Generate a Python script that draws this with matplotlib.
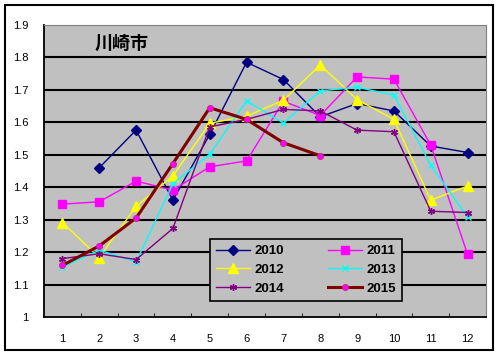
import matplotlib
matplotlib.use('Agg')
import matplotlib.pyplot as plt
from matplotlib.patches import Rectangle
from matplotlib.ticker import FixedLocator, FuncFormatter

months = [str(m) for m in range(1, 13)]
nan = float('nan')

# monthly values
v2010 = [nan, 1.46, 1.576, 1.36, 1.563, 1.785, 1.732, 1.617, 1.658, 1.635, 1.527, 1.507]
v2011 = [1.348, 1.355, 1.419, 1.391, 1.463, 1.481, 1.665, 1.621, 1.74, 1.733, 1.53, 1.193]
v2012 = [1.291, 1.183, 1.341, 1.435, 1.597, 1.619, 1.668, 1.777, 1.67, 1.609, 1.36, 1.404]
v2013 = [1.154, 1.206, 1.17, 1.411, 1.502, 1.666, 1.598, 1.697, 1.708, 1.684, 1.468, 1.308]
v2014 = [1.18, 1.195, 1.177, 1.273, 1.586, 1.609, 1.64, 1.635, 1.576, 1.571, 1.326, 1.322]
v2015 = [1.159, 1.219, 1.305, 1.473, 1.645, 1.609, 1.537, 1.497]

W, H = 501, 356
fig = plt.figure(figsize=(W / 100, H / 100), dpi=100)
fig.patch.set_facecolor('white')

# plot area in pixels: left 44, right 486, top 25, bottom 317
ax = fig.add_axes([44 / W, 1 - 317 / H, (486 - 44) / W, (317 - 25) / H])
ax.set_facecolor('#C0C0C0')

x = list(range(12))
l10, = ax.plot(x, v2010, color='#000080', lw=1, marker='D', ms=5, label='2010')
l11, = ax.plot(x, v2011, color='#FF00FF', lw=1, marker='s', ms=6, label='2011')
l12, = ax.plot(x, v2012, color='#FFFF00', lw=1, marker='^', ms=7, label='2012')
l13, = ax.plot(x, v2013, color='#00FFFF', lw=1, marker='x', ms=4, mew=1, label='2013')
l14, = ax.plot(x, v2014, color='#800080', lw=1, marker=(6, 2, 0), ms=5, mew=1, label='2014')
l15, = ax.plot(x[:len(v2015)], v2015, color='#800000', lw=2.2, marker='o', ms=4.5,
               mfc='#FF00FF', mec='#B03060', mew=0.5, label='2015')

ax.set_xlim(-0.5, 11.5)
ax.set_ylim(1.0, 1.9)
ax.set_xticks(x)
ax.set_xticklabels(months)
ax.xaxis.set_minor_locator(FixedLocator([i + 0.5 for i in range(11)]))
ax.tick_params(axis='x', which='major', length=0, pad=12)
ax.tick_params(axis='x', which='minor', length=3, direction='in', color='black')
ax.set_yticks([1.0 + i / 10 for i in range(10)])
ax.yaxis.set_major_formatter(FuncFormatter(lambda v, p: '%g' % round(v, 1)))
ax.tick_params(axis='y', length=0, pad=11)
for lab in ax.get_xticklabels() + ax.get_yticklabels():
    lab.set_fontfamily('Liberation Sans')
    lab.set_fontsize(8)

for g in [1.1, 1.2, 1.3, 1.4, 1.5, 1.6, 1.7, 1.8]:
    ax.axhline(g, color='black', lw=1.5, zorder=1)

ax.spines['left'].set_color('black')
ax.spines['bottom'].set_color('black')
ax.spines['left'].set_linewidth(1.3)
ax.spines['bottom'].set_linewidth(1.3)
ax.spines['top'].set_color('#808080')
ax.spines['right'].set_color('#808080')

ax.text((95 - 44) / 442, (317 - 43) / 292, '川崎市', transform=ax.transAxes,
        ha='left', va='center', fontsize=13, fontweight='bold',
        family=['Noto Sans CJK JP', 'DejaVu Sans'])

# legend box in pixels: x 210-402, y 239-302; rows 2010/2011, 2012/2013, 2014/2015
handles = [l10, l12, l14, l11, l13, l15]
leg = ax.legend(handles, [h.get_label() for h in handles], ncol=2, loc='upper left',
                bbox_to_anchor=((210 - 44) / 442, (317 - 302) / 292, (402 - 210) / 442, (302 - 239) / 292),
                mode='expand', frameon=True, fancybox=False, facecolor='#C0C0C0',
                edgecolor='black', framealpha=1, handlelength=2.6, handletextpad=0.3,
                labelspacing=0.5, borderaxespad=0, borderpad=0.45, columnspacing=2.5,
                prop={'family': 'Liberation Sans', 'weight': 'bold', 'size': 9.5})
leg.get_frame().set_linewidth(1.2)
leg.set_zorder(5)

fig.patches.append(Rectangle((5 / W, 1 - 350 / H), (493 - 5) / W, (350 - 5) / H,
                             transform=fig.transFigure, fill=False, edgecolor='black', lw=1.5))

fig.savefig('out.png', dpi=100)
